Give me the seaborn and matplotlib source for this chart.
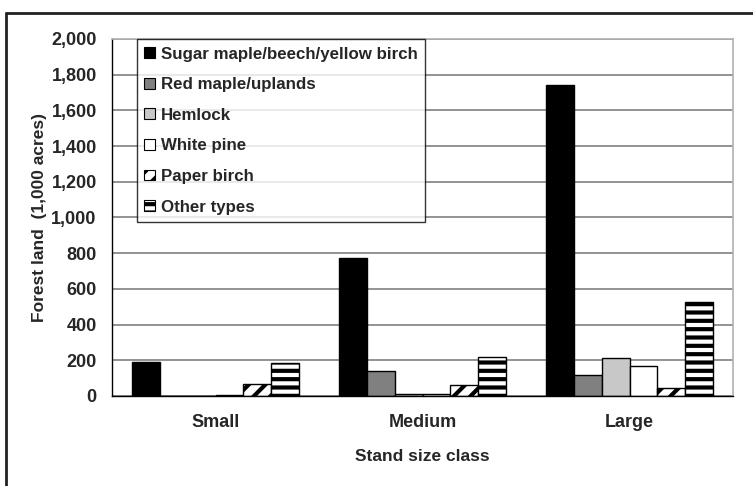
import numpy as np
import pandas as pd
import seaborn as sns
import matplotlib.pyplot as plt
from matplotlib.lines import Line2D
from matplotlib.patches import Patch

# data (1,000 acres)
classes = ['Small', 'Medium', 'Large']
types = ['Sugar maple/beech/yellow birch', 'Red maple/uplands', 'Hemlock',
         'White pine', 'Paper birch', 'Other types']
sugar_maple = [190, 775, 1745]
red_maple = [0, 140, 115]
hemlock = [0, 10, 215]
white_pine = [5, 10, 170]
paper_birch = [70, 60, 45]
other_types = [185, 220, 525]

values = [sugar_maple, red_maple, hemlock, white_pine, paper_birch, other_types]
df = pd.DataFrame({
    'size': np.tile(classes, len(types)),
    'type': np.repeat(types, len(classes)),
    'acres': np.concatenate(values),
})

colors = ['#000000', '#808080', '#c8c8c8', '#ffffff', '#ffffff', '#ffffff']
hatches = ['', '', '', '', '//', '--']

sns.set_style('white')
plt.rcParams['font.family'] = ['Liberation Sans', 'DejaVu Sans']
plt.rcParams['font.weight'] = 'bold'
plt.rcParams['hatch.linewidth'] = 3.0
plt.rcParams['hatch.color'] = 'black'

fig = plt.figure(figsize=(7.53, 4.86), dpi=100)
ax = fig.add_axes([112 / 753, 1 - 396 / 486, 621 / 753, 357 / 486])

sns.barplot(data=df, x='size', y='acres', hue='type', order=classes,
            hue_order=types, palette=colors, saturation=1, width=0.81,
            edgecolor='black', linewidth=1, ax=ax, legend=False)

for cont, h in zip(ax.containers, hatches):
    for bar in cont:
        bar.set_hatch(h)
        bar.set_edgecolor('black')

ax.set_ylim(0, 2000)
ax.set_xlim(-0.5, 2.5)
ax.set_yticks(range(0, 2001, 200))
ax.set_yticklabels([f'{v:,}' for v in range(0, 2001, 200)], fontsize=13, fontweight='bold')
ax.set_xticks([0, 1, 2])
ax.set_xticklabels(classes, fontsize=13, fontweight='bold')
ax.set_xticks([-0.5, 0.5, 1.5, 2.5], minor=True)
ax.tick_params(axis='x', which='major', length=0, pad=13)
ax.tick_params(axis='x', which='minor', length=5, width=1, color='black', direction='out')
ax.tick_params(axis='y', length=5, width=1, color='black', direction='out', pad=6)
ax.yaxis.grid(True, color='#808080', linewidth=1.2)
ax.set_axisbelow(True)

for s in ['left', 'bottom']:
    ax.spines[s].set_color('black')
    ax.spines[s].set_linewidth(1)
for s in ['top', 'right']:
    ax.spines[s].set_color('#b0b0b0')
    ax.spines[s].set_linewidth(1.2)

ax.set_xlabel('Stand size class', fontsize=12.5, fontweight='bold', labelpad=13)
ax.set_ylabel('Forest land  (1,000 acres)', fontsize=12.5, fontweight='bold', labelpad=3)

handles = [Patch(facecolor=c, edgecolor='black', hatch=h, linewidth=0.8)
           for c, h in zip(colors, hatches)]
leg = ax.legend(handles, types, loc='upper left', bbox_to_anchor=(0.04, 1.0),
                frameon=True, fancybox=False, edgecolor='black', fontsize=12.2,
                handlelength=0.6, handleheight=0.6, handletextpad=0.35,
                labelspacing=0.92, borderpad=0.45, borderaxespad=0)
leg.get_frame().set_linewidth(1)
for t in leg.get_texts():
    t.set_fontweight('bold')

# outer border of the figure
fig.add_artist(Line2D([6 / 753, 6 / 753], [0, 1 - 13 / 486], color='#222222', linewidth=2,
                      transform=fig.transFigure))
fig.add_artist(Line2D([6 / 753, 1], [1 - 13 / 486, 1 - 13 / 486], color='#222222', linewidth=2,
                      transform=fig.transFigure))

fig.savefig('out.png', dpi=100)
